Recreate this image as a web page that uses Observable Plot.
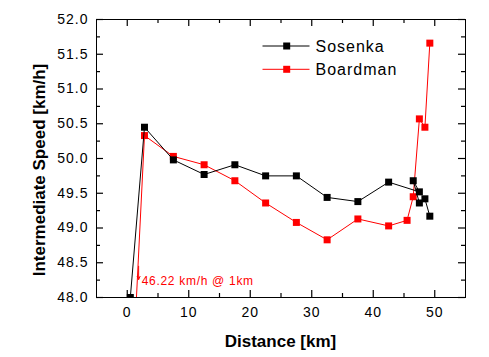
<!DOCTYPE html>
<html><head><meta charset="utf-8">
<script src="https://cdn.jsdelivr.net/npm/d3@7"></script>
<script src="https://cdn.jsdelivr.net/npm/@observablehq/plot@0.6"></script>
<style>
html,body{margin:0;padding:0;background:#fff;}
#chart{width:489px;height:357px;}
</style></head><body><div id="chart"></div>
<script>
// ---- data ----
const sosenkaKm    = [0.5, 2.8, 7.5, 12.5, 17.5, 22.5, 27.5, 32.5, 37.5, 42.5, 47.5, 46.5, 47.5, 48.4, 49.2];
const sosenkaSpeed = [48.0, 50.45, 49.98, 49.77, 49.91, 49.75, 49.75, 49.44, 49.38, 49.66, 49.52, 49.68, 49.36, 49.42, 49.17];
const boardmanKm    = [0.5, 2.8, 7.5, 12.5, 17.5, 22.5, 27.5, 32.5, 37.5, 42.5, 45.5, 46.5, 47.5, 48.4, 49.2];
const boardmanSpeed = [46.22, 50.33, 50.03, 49.91, 49.68, 49.36, 49.08, 48.83, 49.13, 49.03, 49.11, 49.45, 50.57, 50.45, 51.66];
const seriesNames  = ["Sosenka", "Boardman"];
const xTickValues  = [0, 10, 20, 30, 40, 50];
const xMinorValues = [5, 15, 25, 35, 45];
const yTickValues  = [48.0, 48.5, 49.0, 49.5, 50.0, 50.5, 51.0, 51.5, 52.0];
const yMinorValues = [48.25, 48.75, 49.25, 49.75, 50.25, 50.75, 51.25, 51.75];
const noteText = "46.22 km/h @ 1km";
const noteKm = 2.35, noteSpeed = 48.23;
const noteArrowKm = 1.85, noteArrowFrom = 48.45, noteArrowTo = 48.26;
const xLabel = "Distance [km]";
const yLabel = "Intermediate Speed [km/h]";

const sosenka  = sosenkaKm.map((km, i) => ({km, speed: sosenkaSpeed[i]}));
const boardman = boardmanKm.map((km, i) => ({km, speed: boardmanSpeed[i]}));

// ---- layout ----
const WIDTH = 489, HEIGHT = 357;
const mL = 96, mR = 24, mT = 19, mB = 60;
const FW = WIDTH - mL - mR, FH = HEIGHT - mT - mB;
const X0 = -5, X1 = 55, Y0 = 48, Y1 = 52;
const MAJ = 7, MIN = 4;               // tick lengths in pixels
const xPerPx = (X1 - X0) / FW, yPerPx = (Y1 - Y0) / FH;
const BLACK = "#000000", RED = "#ff0000";
const FONT = "'Liberation Sans', Arial, Helvetica, sans-serif";

function inwardTicks(vals, len) {
  return [
    Plot.ruleX(vals, {x: d => d, y1: Y0, y2: Y0 + len * yPerPx, stroke: BLACK, strokeWidth: 1.2}),
    Plot.ruleX(vals, {x: d => d, y1: Y1 - len * yPerPx, y2: Y1, stroke: BLACK, strokeWidth: 1.2})
  ];
}
function inwardTicksY(vals, len) {
  return [
    Plot.ruleY(vals, {y: d => d, x1: X0, x2: X0 + len * xPerPx, stroke: BLACK, strokeWidth: 1.2}),
    Plot.ruleY(vals, {y: d => d, x1: X1 - len * xPerPx, x2: X1, stroke: BLACK, strokeWidth: 1.2})
  ];
}

const plot = Plot.plot({
  width: WIDTH, height: HEIGHT,
  marginLeft: mL, marginRight: mR, marginTop: mT, marginBottom: mB,
  x: {domain: [X0, X1]},
  y: {domain: [Y0, Y1]},
  style: {fontFamily: FONT, fontSize: "14px", color: BLACK, background: "#fff", overflow: "visible"},
  marks: [
    Plot.axisX(xTickValues, {tickSize: 0, tickPadding: 10, label: null, fontSize: 14}),
    Plot.axisY(yTickValues, {tickSize: 0, tickPadding: 8, label: null, fontSize: 14, tickFormat: d3.format(".1f")}),
    ...inwardTicks(xTickValues, MAJ),
    ...inwardTicks(xMinorValues, MIN),
    ...inwardTicksY(yTickValues, MAJ),
    ...inwardTicksY(yMinorValues, MIN),
    // series
    Plot.line(boardman, {x: "km", y: "speed", stroke: RED, strokeWidth: 1, clip: true}),
    Plot.dot(boardman, {x: "km", y: "speed", symbol: "square", r: 3.95, fill: RED, stroke: null, clip: true}),
    Plot.line(sosenka, {x: "km", y: "speed", stroke: BLACK, strokeWidth: 1, clip: true}),
    Plot.dot(sosenka, {x: "km", y: "speed", symbol: "square", r: 3.95, fill: BLACK, stroke: null, clip: true}),
    // annotation
    Plot.arrow([0], {x1: () => noteArrowKm, x2: () => noteArrowKm, y1: () => noteArrowFrom, y2: () => noteArrowTo,
      stroke: RED, strokeWidth: 1, headLength: 5, headAngle: 50}),
    Plot.text([noteText], {x: () => noteKm, y: () => noteSpeed, text: d => d, fill: RED, fontSize: 12, textAnchor: "start"}),
    Plot.frame({stroke: BLACK, strokeWidth: 1})
  ]
});

document.getElementById("chart").appendChild(plot);
const svg = d3.select(plot);
svg.selectAll('g[aria-label$="tick label"] text').style("letter-spacing", "1px");
svg.selectAll('g[aria-label="text"] text').style("letter-spacing", "0.7px");

// axis titles
svg.append("text").attr("x", mL + FW / 2).attr("y", 347)
  .attr("text-anchor", "middle").attr("font-family", FONT).attr("font-size", 17).attr("font-weight", "bold")
  .attr("fill", BLACK).text(xLabel);
svg.append("text").attr("transform", "translate(45,170) rotate(-90)")
  .attr("text-anchor", "middle").attr("font-family", FONT).attr("font-size", 17).attr("font-weight", "bold")
  .attr("fill", BLACK).text(yLabel);

// legend
const legend = svg.append("g");
[[seriesNames[0], BLACK, 46, 52.3], [seriesNames[1], RED, 69.3, 74.5]].forEach(([name, color, ly, by]) => {
  legend.append("line").attr("x1", 262.5).attr("x2", 309.5).attr("y1", ly).attr("y2", ly)
    .attr("stroke", color).attr("stroke-width", 1);
  legend.append("rect").attr("x", 286.7 - 3.5).attr("y", ly - 3.5).attr("width", 7).attr("height", 7).attr("fill", color);
  legend.append("text").attr("x", 315.5).attr("y", by).attr("text-anchor", "start")
    .attr("font-family", FONT).attr("font-size", 16)
    .style("letter-spacing", "1px").attr("fill", BLACK).text(name);
});
</script>
</body></html>
